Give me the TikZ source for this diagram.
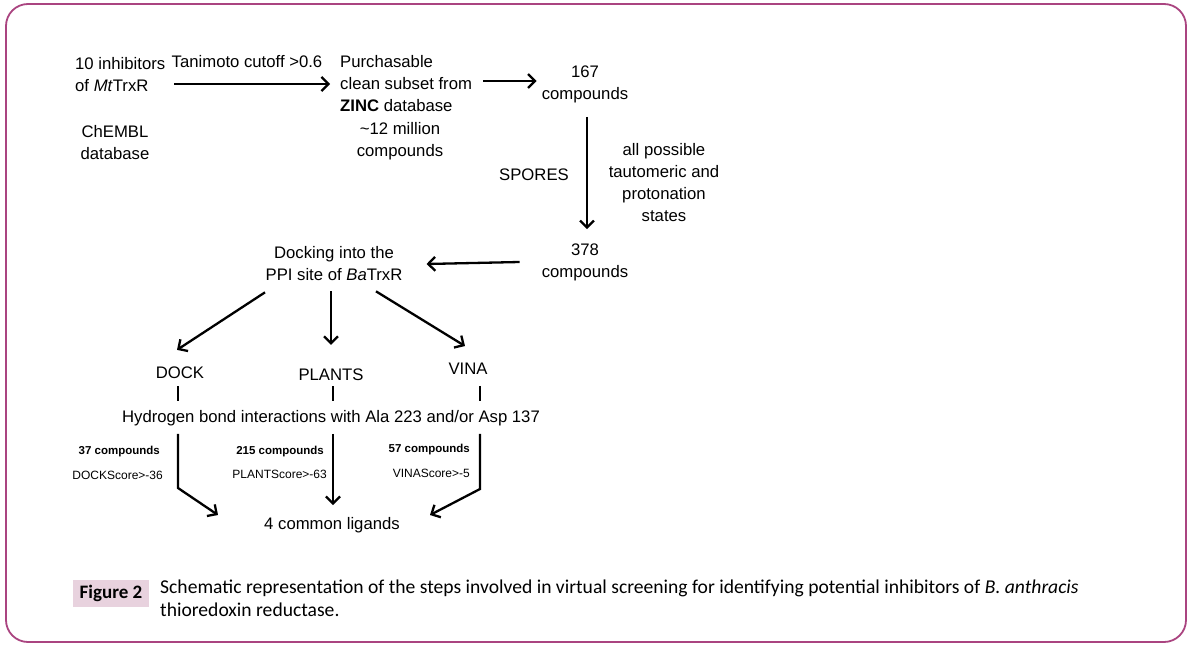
\documentclass[tikz,border=0pt]{standalone}
\usepackage{fontspec}
\setmainfont{Liberation Sans}
\newfontfamily\capfont{Carlito}
\usetikzlibrary{arrows.meta}
\definecolor{frame}{RGB}{170,68,128}
\definecolor{figbg}{RGB}{232,210,222}
\tikzset{
  txt/.style={inner sep=0pt, align=center, font=\fontsize{16.7}{22}\selectfont},
  small/.style={inner sep=0pt, font=\fontsize{12}{14}\selectfont},
  smallb/.style={inner sep=0pt, font=\fontsize{11.5}{14}\selectfont\bfseries},
  arr/.style={line width=2.3pt, -{Straight Barb[length=7pt,width=14pt]}},
  ln/.style={line width=2.3pt}
}
\begin{document}
\begin{tikzpicture}[x=1pt,y=-1pt]
\useasboundingbox (0,0) rectangle (1191,650);
\draw[frame, line width=1.8pt, rounded corners=22pt] (6,4) rectangle (1186,642);

% top row
\node[txt, anchor=west, align=left] (inh) at (75,75) {10 inhibitors\\of \textit{Mt}TrxR};
\node[txt] (tani) at (247,62) {Tanimoto cutoff >0.6};
\node[txt, anchor=west, align=left] (purch) at (340,84) {Purchasable\\clean subset from\\\textbf{ZINC} database};
\node[txt] (chembl) at (115,143) {ChEMBL\\database};
\node[txt] (mil) at (400,141) {\textasciitilde12 million\\compounds};
\node[txt] (c167) at (585,84) {167\\compounds};
\node[txt] (spores) at (534,175) {SPORES};
\node[txt] (allp) at (664,183) {all possible\\tautomeric and\\protonation\\states};
\node[txt] (c378) at (585,262) {378\\compounds};
\node[txt] (dockin) at (334,264) {Docking into the\\PPI site of \textit{Ba}TrxR};

\draw[arr] ([xshift=9pt]inh.east |- purch.west) -- ([xshift=-10pt]purch.west);
\draw[arr] ([xshift=11pt]purch.east |- 0,81) -- ([xshift=-5pt]c167.west |- 0,81);
\draw[arr] ([yshift=-14pt]c167.south -| 587,0) -- ([yshift=14pt]c378.north -| 587,0);
\draw[arr] ([xshift=-22pt]c378.west) -- ([xshift=24pt]dockin.east);

% programs
\node[txt] (dock) at (180,373) {DOCK};
\node[txt] (plants) at (331,375) {PLANTS};
\node[txt] (vina) at (468,369) {VINA};
\draw[arr] ([xshift=-69pt, yshift=-11pt]dockin.south) -- ([yshift=17pt]dock.north -| 177,0);
\draw[arr] ([xshift=-3pt, yshift=-10pt]dockin.south) -- ([yshift=24pt]plants.north);
\draw[arr] ([xshift=42pt, yshift=-10pt]dockin.south) -- ([yshift=17pt]vina.north -| 465,0);

\node[txt] (hb) at (331,418) {Hydrogen bond interactions with Ala 223 and/or Asp 137};
\draw[ln] ([yshift=-7pt]dock.south -| 178,0) -- ([yshift=9pt]hb.north -| 178,0);
\draw[ln] ([yshift=-5pt]plants.south -| 333,0) -- ([yshift=9pt]hb.north -| 333,0);
\draw[ln] ([yshift=-11pt]vina.south -| 480,0) -- ([yshift=9pt]hb.north -| 480,0);

\node[txt] (lig) at (332,525) {4 common ligands};
\draw[arr] ([yshift=-8pt]hb.south -| 178,0) -- (178,488) -- ([xshift=-114pt, yshift=2pt]lig.north);
\draw[arr] ([yshift=-8pt]hb.south -| 333,0) -- ([yshift=12pt]lig.north -| 333,0);
\draw[arr] ([yshift=-8pt]hb.south -| 480,0) -- (480,489) -- ([xshift=98pt, yshift=2pt]lig.north);

\node[smallb, anchor=east] (n37) at (160,452) {37 compounds};
\node[small, anchor=east] (s37) at (163,475) {DOCKScore>-36};
\node[smallb, anchor=east] (n215) at (324,452) {215 compounds};
\node[small, anchor=east] (s215) at (327,474) {PLANTScore>-63};
\node[smallb, anchor=east] (n57) at (470,450) {57 compounds};
\node[small, anchor=east] (s57) at (470,473) {VINAScore>-5};

% caption
\node[fill=figbg, inner sep=0pt, minimum width=76pt, minimum height=27pt, font=\capfont\fontsize{19}{22}\selectfont\bfseries] (fig) at (111,593) {Figure 2};
\node[anchor=north west, align=left, inner sep=0pt, font=\capfont\fontsize{19.6}{23}\selectfont] (cap) at (160,580) {Schematic representation of the steps involved in virtual screening for identifying potential inhibitors of \textit{B. anthracis}\\thioredoxin reductase.};
\end{tikzpicture}
\end{document}
